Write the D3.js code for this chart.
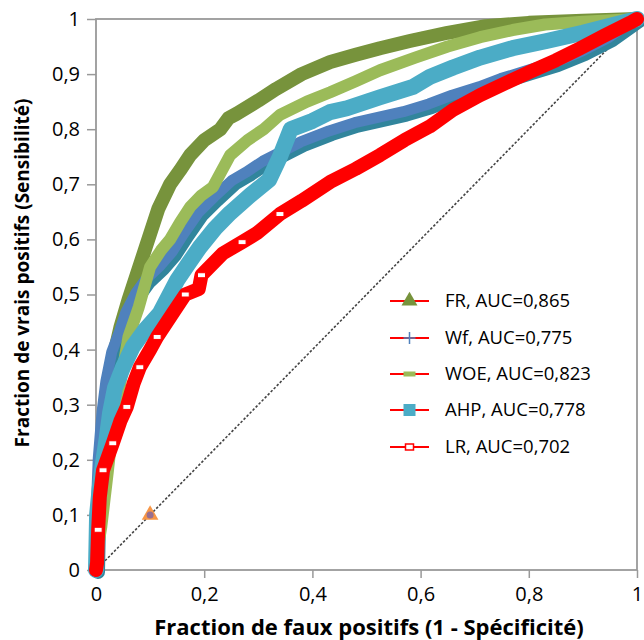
<!DOCTYPE html>
<html><head><meta charset="utf-8">
<script src="https://cdn.jsdelivr.net/npm/d3@7"></script>
<style>body{margin:0;background:#fff}svg{display:block}text{font-family:"Open Sans",sans-serif}</style>
</head><body><svg id="c" width="644" height="640"></svg>
<script>
const seriesNames = ["FR", "Wf", "WOE", "AHP", "LR"];
const aucLabels = ["FR, AUC=0,865", "Wf, AUC=0,775", "WOE, AUC=0,823", "AHP, AUC=0,778", "LR, AUC=0,702"];
const xTicks = [0, 0.2, 0.4, 0.6, 0.8, 1];
const yTicks = [0, 0.1, 0.2, 0.3, 0.4, 0.5, 0.6, 0.7, 0.8, 0.9, 1];

const frPts = [[0,0],[0.003,0.05],[0.006,0.1],[0.01,0.15],[0.014,0.2],[0.019,0.26],[0.025,0.32],[0.031,0.38],[0.045,0.44],[0.06,0.49],[0.075,0.535],[0.09,0.58],[0.1,0.61],[0.115,0.655],[0.137,0.70],[0.155,0.725],[0.174,0.753],[0.2,0.78],[0.23,0.80],[0.245,0.82],[0.26,0.828],[0.3,0.852],[0.333,0.873],[0.38,0.9],[0.433,0.922],[0.48,0.935],[0.525,0.947],[0.58,0.96],[0.65,0.975],[0.72,0.987],[0.8,0.993],[0.9,0.997],[1,1]];
const wfPts = [[0,0],[0.002,0.1],[0.006,0.2],[0.013,0.285],[0.02,0.34],[0.031,0.394],[0.045,0.43],[0.057,0.466],[0.075,0.5],[0.094,0.526],[0.12,0.55],[0.142,0.575],[0.165,0.61],[0.192,0.648],[0.22,0.675],[0.253,0.705],[0.279,0.72],[0.31,0.74],[0.34,0.755],[0.38,0.775],[0.4325,0.795],[0.48,0.81],[0.525,0.82],[0.57,0.83],[0.617,0.844],[0.66,0.86],[0.71,0.875],[0.75,0.89],[0.8,0.905],[0.85,0.92],[0.9,0.94],[0.95,0.965],[1,1]];
const woePts = [[0,0],[0.005,0.05],[0.01,0.08],[0.016,0.13],[0.022,0.18],[0.03,0.25],[0.038,0.3],[0.046,0.345],[0.06,0.423],[0.079,0.477],[0.1,0.55],[0.12,0.58],[0.137,0.60],[0.155,0.63],[0.174,0.659],[0.195,0.68],[0.216,0.695],[0.248,0.753],[0.28,0.78],[0.31,0.80],[0.34,0.826],[0.39,0.85],[0.433,0.867],[0.48,0.887],[0.525,0.907],[0.59,0.93],[0.65,0.95],[0.71,0.967],[0.77,0.98],[0.83,0.99],[0.9,0.995],[1,1]];
const ahpPts = [[0,0],[0.002,0.1],[0.007,0.15],[0.013,0.194],[0.02,0.24],[0.026,0.285],[0.035,0.33],[0.05,0.368],[0.068,0.405],[0.09,0.435],[0.118,0.466],[0.15,0.526],[0.17,0.555],[0.192,0.586],[0.22,0.62],[0.248,0.648],[0.285,0.68],[0.32,0.708],[0.34,0.75],[0.36,0.80],[0.40,0.815],[0.4325,0.831],[0.464,0.838],[0.525,0.858],[0.586,0.877],[0.617,0.895],[0.66,0.912],[0.71,0.93],[0.77,0.947],[0.833,0.96],[0.9,0.975],[0.956,0.989],[1,1]];
const lrPts = [[0,0],[0.002,0.013],[0.004,0.073],[0.007,0.132],[0.013,0.181],[0.02,0.2],[0.031,0.23],[0.045,0.27],[0.057,0.296],[0.07,0.34],[0.081,0.368],[0.1,0.40],[0.113,0.423],[0.142,0.466],[0.165,0.50],[0.19,0.51],[0.195,0.535],[0.235,0.575],[0.27,0.595],[0.297,0.611],[0.34,0.646],[0.38,0.67],[0.4325,0.704],[0.48,0.728],[0.525,0.753],[0.57,0.78],[0.617,0.805],[0.66,0.835],[0.71,0.862],[0.76,0.885],[0.802,0.904],[0.85,0.925],[0.895,0.947],[0.94,0.97],[0.987,0.993],[1,1]];
const refPoint = [[0.1, 0.1]];
const diagonal = [[0,0],[1,1]];

const svg = d3.select("#c");
const x = d3.scaleLinear().domain([0,1]).range([96,637]);
const y = d3.scaleLinear().domain([0,1]).range([570,19]);
const fmt = d => (d===0||d===1) ? String(d) : d3.format(".1f")(d).replace(".", ",");

const gx = svg.append("g").attr("transform","translate(0,570)")
  .call(d3.axisBottom(x).tickValues(xTicks).tickSize(8).tickPadding(9).tickFormat(fmt));
const gy = svg.append("g").attr("transform","translate(96,0)")
  .call(d3.axisLeft(y).tickValues(yTicks).tickSize(9).tickPadding(7).tickFormat(fmt));
[gx,gy].forEach(g=>{
  g.select(".domain").remove();
  g.selectAll(".tick line").attr("stroke","#999").attr("stroke-width",1.5);
  g.selectAll(".tick text").attr("fill","#000").style("font-size","20px").style("font-family","'Open Sans', sans-serif");
});
svg.append("rect").attr("x",x(0)).attr("y",y(1)).attr("width",x(1)-x(0)).attr("height",y(0)-y(1))
  .attr("fill","none").attr("stroke","#999").attr("stroke-width",1.8);

const line = d3.line().x(d=>x(d[0])).y(d=>y(d[1]));

svg.append("path").datum(diagonal).attr("d",line).attr("stroke","#444").attr("stroke-width",1.6)
  .attr("stroke-dasharray","2.5,1.8").attr("fill","none");

function band(data, color, w, dx=0, dy=0){
  svg.append("path").datum(data).attr("d",line).attr("fill","none").attr("stroke",color)
    .attr("stroke-width",w).attr("stroke-linejoin","round").attr("stroke-linecap","round")
    .attr("transform",`translate(${dx},${dy})`);
}
band(frPts, "#77933C", 14);
band(wfPts, "#31859C", 14, 2, 2);
band(wfPts, "#4F81BD", 11, -1, -1);
band(woePts, "#9BBB59", 12);
band(ahpPts, "#4BACC6", 16);
band(lrPts, "#FF0000", 14);

svg.selectAll(".lrm").data(lrPts.filter((d,i)=>i>1 && i<22 && i%2===0)).enter().append("rect")
  .attr("x",d=>x(d[0])-4).attr("y",d=>y(d[1])-2.5).attr("width",8).attr("height",5)
  .attr("fill","#fff").attr("stroke","#FF0000").attr("stroke-width",1);

svg.selectAll(".refp").data(refPoint).enter().append("path")
  .attr("d", d3.symbol().type(d3.symbolTriangle).size(120))
  .attr("transform", d=>`translate(${x(d[0])},${y(d[1])})`).attr("fill","#F79646");
svg.selectAll(".refc").data(refPoint).enter().append("circle")
  .attr("cx",d=>x(d[0])).attr("cy",d=>y(d[1])).attr("r",3.5).attr("fill","#8064A2").attr("opacity",0.8);

const legY = [301, 338, 374, 410, 447];
const lg = svg.append("g");
seriesNames.forEach((s,i)=>{
  const cy = legY[i];
  lg.append("line").attr("x1",390).attr("x2",429).attr("y1",cy).attr("y2",cy).attr("stroke","#FF0000").attr("stroke-width",2);
  const cx = 409.5;
  if(s==="FR") lg.append("path").attr("d",d3.symbol().type(d3.symbolTriangle).size(110)).attr("transform",`translate(${cx},${cy})`).attr("fill","#77933C");
  if(s==="Wf") lg.append("path").attr("d",`M${cx-6},${cy}H${cx+6}M${cx},${cy-6}V${cy+6}`).attr("stroke","#4F81BD").attr("stroke-width",1.5);
  if(s==="WOE") lg.append("rect").attr("x",cx-6).attr("y",cy-2.5).attr("width",12).attr("height",5).attr("fill","#9BBB59");
  if(s==="AHP") lg.append("rect").attr("x",cx-6).attr("y",cy-6).attr("width",12).attr("height",12).attr("fill","#4BACC6");
  if(s==="LR") lg.append("rect").attr("x",cx-4).attr("y",cy-3).attr("width",8).attr("height",6).attr("fill","#fff").attr("stroke","#FF0000").attr("stroke-width",1.5);
  lg.append("text").attr("x",445).attr("y",cy).attr("dy","0.35em").style("font-size","18.5px").attr("fill","#000").text(aucLabels[i]);
});

svg.append("text").attr("x",369).attr("y",627).attr("dy","0.35em").attr("text-anchor","middle")
  .style("font-size","22px").style("font-weight","bold").text("Fraction de faux positifs (1 - Spécificité)");
svg.append("text").attr("transform","translate(22,273) rotate(-90)").attr("dy","0.35em").attr("text-anchor","middle")
  .style("font-size","19px").style("font-weight","bold").text("Fraction de vrais positifs (Sensibilité)");
</script></body></html>
